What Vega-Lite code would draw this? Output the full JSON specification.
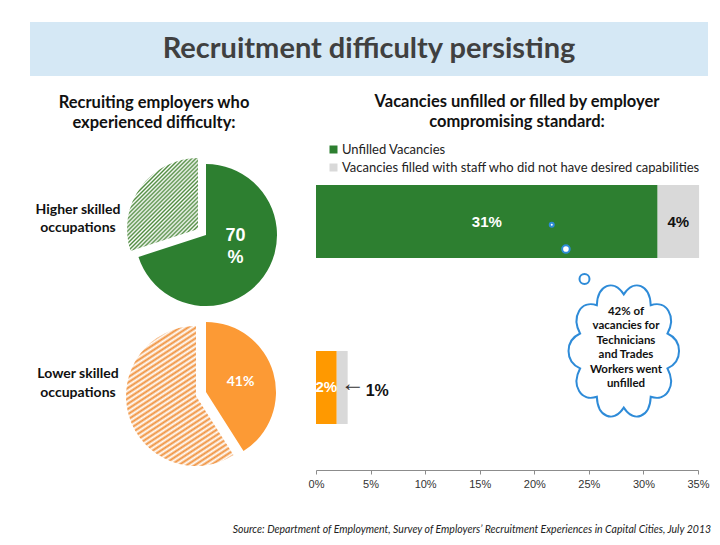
{
  "$schema": "https://vega.github.io/schema/vega-lite/v6.json",
  "padding": {"left": 30, "top": 22, "right": 0, "bottom": 0},
  "background": "white",
  "config": {"view": {"stroke": null}, "font": "Lato"},
  "title": {"text": "Source:  Department of Employment, Survey of Employers’ Recruitment Experiences in Capital Cities, July 2013", "orient": "bottom", "anchor": "end", "font": "Lato", "fontStyle": "italic", "fontWeight": "normal", "fontSize": 10.5, "color": "#222222", "offset": 36, "dx": -6},
  "spacing": 17,
  "resolve": {"legend": {"color": "independent", "size": "independent"}},
  "vconcat": [
    {
      "width": 678,
      "height": 54,
      "view": {"fill": "#d5e8f5", "stroke": null},
      "data": {"values": [{"heading": "Recruitment difficulty persisting"}]},
      "mark": {"type": "text", "font": "Lato", "fontWeight": "bold", "fontSize": 29, "color": "#404040", "baseline": "middle", "align": "center"},
      "encoding": {"text": {"field": "heading"}}
    },
    {
      "spacing": 22,
      "resolve": {"legend": {"color": "independent", "size": "independent"}},
      "hconcat": [
        {
          "title": {"text": ["Recruiting employers who", "experienced difficulty:"], "font": "Lato", "fontSize": 16.5, "fontWeight": "bold", "color": "#111111", "lineHeight": 20, "offset": 27, "anchor": "middle", "dx": -4},
          "spacing": 0,
          "hconcat": [
            {
              "spacing": 7,
              "vconcat": [
                {
                  "width": 96,
                  "height": 150,
                  "data": {"values": [{"group": "Higher skilled occupations", "label": "Higher skilled\noccupations"}]},
                  "mark": {"type": "text", "font": "Lato", "fontWeight": "bold", "fontSize": 14, "lineHeight": 18, "lineBreak": "\n", "align": "center", "baseline": "middle", "dy": -25, "color": "#111111"},
                  "encoding": {"text": {"field": "label"}}
                },
                {
                  "width": 96,
                  "height": 150,
                  "data": {"values": [{"group": "Lower skilled occupations", "label": "Lower skilled\noccupations"}]},
                  "mark": {"type": "text", "font": "Lato", "fontWeight": "bold", "fontSize": 14, "lineHeight": 19, "lineBreak": "\n", "align": "center", "baseline": "middle", "dy": -18.5, "color": "#111111"},
                  "encoding": {"text": {"field": "label"}}
                }
              ]
            },
            {
              "spacing": 7,
              "vconcat": [
                {
                  "width": 160,
                  "height": 150,
                  "data": {"values": [
                    {"occupation": "Higher skilled occupations", "status": "Experienced difficulty", "pct": 70, "label": "70\n%"},
                    {"occupation": "Higher skilled occupations", "status": "No difficulty", "pct": 30, "label": ""}
                  ]},
                  "encoding": {
                    "theta": {"field": "pct", "type": "quantitative", "stack": true},
                    "order": {"field": "status", "sort": "ascending"},
                    "detail": {"field": "status"}
                  },
                  "layer": [
                    {
                      "mark": {"type": "arc", "outerRadius": 71, "fill": "#2d7f30"},
                      "encoding": {"fillOpacity": {"condition": {"test": "datum.status === 'Experienced difficulty'", "value": 1}, "value": 0}}
                    },
                    {
                      "mark": {"type": "arc", "outerRadius": 71, "xOffset": -8, "yOffset": -6, "fill": {"gradient": "linear", "x1": 0, "y1": 0, "x2": 0.85, "y2": 1.11, "stops": [
                        {"offset":0,"color":"#4f8b3f"},{"offset":0.0125,"color":"#ffffff"},{"offset":0.025,"color":"#4f8b3f"},{"offset":0.0375,"color":"#ffffff"},{"offset":0.05,"color":"#4f8b3f"},{"offset":0.0625,"color":"#ffffff"},{"offset":0.075,"color":"#4f8b3f"},{"offset":0.0875,"color":"#ffffff"},{"offset":0.1,"color":"#4f8b3f"},{"offset":0.1125,"color":"#ffffff"},{"offset":0.125,"color":"#4f8b3f"},{"offset":0.1375,"color":"#ffffff"},{"offset":0.15,"color":"#4f8b3f"},{"offset":0.1625,"color":"#ffffff"},{"offset":0.175,"color":"#4f8b3f"},{"offset":0.1875,"color":"#ffffff"},{"offset":0.2,"color":"#4f8b3f"},{"offset":0.2125,"color":"#ffffff"},{"offset":0.225,"color":"#4f8b3f"},{"offset":0.2375,"color":"#ffffff"},{"offset":0.25,"color":"#4f8b3f"},{"offset":0.2625,"color":"#ffffff"},{"offset":0.275,"color":"#4f8b3f"},{"offset":0.2875,"color":"#ffffff"},{"offset":0.3,"color":"#4f8b3f"},{"offset":0.3125,"color":"#ffffff"},{"offset":0.325,"color":"#4f8b3f"},{"offset":0.3375,"color":"#ffffff"},{"offset":0.35,"color":"#4f8b3f"},{"offset":0.3625,"color":"#ffffff"},{"offset":0.375,"color":"#4f8b3f"},{"offset":0.3875,"color":"#ffffff"},{"offset":0.4,"color":"#4f8b3f"},{"offset":0.4125,"color":"#ffffff"},{"offset":0.425,"color":"#4f8b3f"},{"offset":0.4375,"color":"#ffffff"},{"offset":0.45,"color":"#4f8b3f"},{"offset":0.4625,"color":"#ffffff"},{"offset":0.475,"color":"#4f8b3f"},{"offset":0.4875,"color":"#ffffff"},{"offset":0.5,"color":"#4f8b3f"},{"offset":0.5125,"color":"#ffffff"},{"offset":0.525,"color":"#4f8b3f"},{"offset":0.5375,"color":"#ffffff"},{"offset":0.55,"color":"#4f8b3f"},{"offset":0.5625,"color":"#ffffff"},{"offset":0.575,"color":"#4f8b3f"},{"offset":0.5875,"color":"#ffffff"},{"offset":0.6,"color":"#4f8b3f"},{"offset":0.6125,"color":"#ffffff"},{"offset":0.625,"color":"#4f8b3f"},{"offset":0.6375,"color":"#ffffff"},{"offset":0.65,"color":"#4f8b3f"},{"offset":0.6625,"color":"#ffffff"},{"offset":0.675,"color":"#4f8b3f"},{"offset":0.6875,"color":"#ffffff"},{"offset":0.7,"color":"#4f8b3f"},{"offset":0.7125,"color":"#ffffff"},{"offset":0.725,"color":"#4f8b3f"},{"offset":0.7375,"color":"#ffffff"},{"offset":0.75,"color":"#4f8b3f"},{"offset":0.7625,"color":"#ffffff"},{"offset":0.775,"color":"#4f8b3f"},{"offset":0.7875,"color":"#ffffff"},{"offset":0.8,"color":"#4f8b3f"},{"offset":0.8125,"color":"#ffffff"},{"offset":0.825,"color":"#4f8b3f"},{"offset":0.8375,"color":"#ffffff"},{"offset":0.85,"color":"#4f8b3f"},{"offset":0.8625,"color":"#ffffff"},{"offset":0.875,"color":"#4f8b3f"},{"offset":0.8875,"color":"#ffffff"},{"offset":0.9,"color":"#4f8b3f"},{"offset":0.9125,"color":"#ffffff"},{"offset":0.925,"color":"#4f8b3f"},{"offset":0.9375,"color":"#ffffff"},{"offset":0.95,"color":"#4f8b3f"},{"offset":0.9625,"color":"#ffffff"},{"offset":0.975,"color":"#4f8b3f"},{"offset":0.9875,"color":"#ffffff"},{"offset":1,"color":"#4f8b3f"}
                      ]}},
                      "encoding": {
                        "x": {"datum": 0, "type": "quantitative", "scale": {"domain": [-1, 1], "nice": false}, "axis": null},
                        "y": {"datum": 0, "type": "quantitative", "scale": {"domain": [-1, 1], "nice": false}, "axis": null},
                        "fillOpacity": {"condition": {"test": "datum.status === 'No difficulty'", "value": 1}, "value": 0}
                      }
                    },
                    {
                      "mark": {"type": "text", "radius": 34, "dx": 2, "dy": -19, "font": "Liberation Sans", "fontWeight": "bold", "fontSize": 18, "color": "#ffffff", "lineBreak": "\n", "lineHeight": 22, "baseline": "middle"},
                      "encoding": {"text": {"field": "label"}}
                    }
                  ]
                },
                {
                  "width": 160,
                  "height": 150,
                  "data": {"values": [
                    {"occupation": "Lower skilled occupations", "status": "Experienced difficulty", "pct": 41, "label": "41%"},
                    {"occupation": "Lower skilled occupations", "status": "No difficulty", "pct": 59, "label": ""}
                  ]},
                  "encoding": {
                    "theta": {"field": "pct", "type": "quantitative", "stack": true},
                    "order": {"field": "status", "sort": "ascending"},
                    "detail": {"field": "status"}
                  },
                  "layer": [
                    {
                      "mark": {"type": "arc", "outerRadius": 70, "fill": "#fc9a35"},
                      "encoding": {"fillOpacity": {"condition": {"test": "datum.status === 'Experienced difficulty'", "value": 1}, "value": 0}}
                    },
                    {
                      "mark": {"type": "arc", "outerRadius": 70, "xOffset": -10, "yOffset": 4, "fill": {"gradient": "linear", "x1": 0, "y1": 0, "x2": 0.604, "y2": 1.2, "stops": [
                        {"offset":0,"color":"#f0913c"},{"offset":0.0125,"color":"#ffffff"},{"offset":0.025,"color":"#f0913c"},{"offset":0.0375,"color":"#ffffff"},{"offset":0.05,"color":"#f0913c"},{"offset":0.0625,"color":"#ffffff"},{"offset":0.075,"color":"#f0913c"},{"offset":0.0875,"color":"#ffffff"},{"offset":0.1,"color":"#f0913c"},{"offset":0.1125,"color":"#ffffff"},{"offset":0.125,"color":"#f0913c"},{"offset":0.1375,"color":"#ffffff"},{"offset":0.15,"color":"#f0913c"},{"offset":0.1625,"color":"#ffffff"},{"offset":0.175,"color":"#f0913c"},{"offset":0.1875,"color":"#ffffff"},{"offset":0.2,"color":"#f0913c"},{"offset":0.2125,"color":"#ffffff"},{"offset":0.225,"color":"#f0913c"},{"offset":0.2375,"color":"#ffffff"},{"offset":0.25,"color":"#f0913c"},{"offset":0.2625,"color":"#ffffff"},{"offset":0.275,"color":"#f0913c"},{"offset":0.2875,"color":"#ffffff"},{"offset":0.3,"color":"#f0913c"},{"offset":0.3125,"color":"#ffffff"},{"offset":0.325,"color":"#f0913c"},{"offset":0.3375,"color":"#ffffff"},{"offset":0.35,"color":"#f0913c"},{"offset":0.3625,"color":"#ffffff"},{"offset":0.375,"color":"#f0913c"},{"offset":0.3875,"color":"#ffffff"},{"offset":0.4,"color":"#f0913c"},{"offset":0.4125,"color":"#ffffff"},{"offset":0.425,"color":"#f0913c"},{"offset":0.4375,"color":"#ffffff"},{"offset":0.45,"color":"#f0913c"},{"offset":0.4625,"color":"#ffffff"},{"offset":0.475,"color":"#f0913c"},{"offset":0.4875,"color":"#ffffff"},{"offset":0.5,"color":"#f0913c"},{"offset":0.5125,"color":"#ffffff"},{"offset":0.525,"color":"#f0913c"},{"offset":0.5375,"color":"#ffffff"},{"offset":0.55,"color":"#f0913c"},{"offset":0.5625,"color":"#ffffff"},{"offset":0.575,"color":"#f0913c"},{"offset":0.5875,"color":"#ffffff"},{"offset":0.6,"color":"#f0913c"},{"offset":0.6125,"color":"#ffffff"},{"offset":0.625,"color":"#f0913c"},{"offset":0.6375,"color":"#ffffff"},{"offset":0.65,"color":"#f0913c"},{"offset":0.6625,"color":"#ffffff"},{"offset":0.675,"color":"#f0913c"},{"offset":0.6875,"color":"#ffffff"},{"offset":0.7,"color":"#f0913c"},{"offset":0.7125,"color":"#ffffff"},{"offset":0.725,"color":"#f0913c"},{"offset":0.7375,"color":"#ffffff"},{"offset":0.75,"color":"#f0913c"},{"offset":0.7625,"color":"#ffffff"},{"offset":0.775,"color":"#f0913c"},{"offset":0.7875,"color":"#ffffff"},{"offset":0.8,"color":"#f0913c"},{"offset":0.8125,"color":"#ffffff"},{"offset":0.825,"color":"#f0913c"},{"offset":0.8375,"color":"#ffffff"},{"offset":0.85,"color":"#f0913c"},{"offset":0.8625,"color":"#ffffff"},{"offset":0.875,"color":"#f0913c"},{"offset":0.8875,"color":"#ffffff"},{"offset":0.9,"color":"#f0913c"},{"offset":0.9125,"color":"#ffffff"},{"offset":0.925,"color":"#f0913c"},{"offset":0.9375,"color":"#ffffff"},{"offset":0.95,"color":"#f0913c"},{"offset":0.9625,"color":"#ffffff"},{"offset":0.975,"color":"#f0913c"},{"offset":0.9875,"color":"#ffffff"},{"offset":1,"color":"#f0913c"}
                      ]}},
                      "encoding": {
                        "x": {"datum": 0, "type": "quantitative", "scale": {"domain": [-1, 1], "nice": false}, "axis": null},
                        "y": {"datum": 0, "type": "quantitative", "scale": {"domain": [-1, 1], "nice": false}, "axis": null},
                        "fillOpacity": {"condition": {"test": "datum.status === 'No difficulty'", "value": 1}, "value": 0}
                      }
                    },
                    {
                      "mark": {"type": "text", "radius": 36, "font": "Lato", "fontWeight": "bold", "fontSize": 14, "color": "#ffffff", "baseline": "middle"},
                      "encoding": {"text": {"field": "label"}}
                    }
                  ]
                }
              ]
            }
          ]
        },
        {
          "width": 382,
          "height": 310,
          "title": {"text": ["Vacancies unfilled or filled by employer", "compromising standard:"], "font": "Lato", "fontSize": 16.5, "fontWeight": "bold", "color": "#111111", "lineHeight": 20, "offset": 13, "anchor": "middle", "dx": 10},
          "resolve": {"scale": {"y": "independent"}},
          "layer": [
            {
              "data": {"values": [
                {"occupation": "Higher skilled occupations", "type": "Unfilled Vacancies", "pct": 31.3, "label": "31%"},
                {"occupation": "Higher skilled occupations", "type": "Vacancies filled with staff who did not have desired capabilities", "pct": 3.8, "label": "4%"},
                {"occupation": "Lower skilled occupations", "type": "Unfilled Vacancies", "pct": 1.9, "label": "2%"},
                {"occupation": "Lower skilled occupations", "type": "Vacancies filled with staff who did not have desired capabilities", "pct": 1.0, "label": "1%"}
              ]},
              "encoding": {
                "y": {"field": "occupation", "type": "nominal", "sort": ["Higher skilled occupations", "Lower skilled occupations"], "axis": null, "scale": {"paddingInner": 0.56, "paddingOuter": 0.214, "align": 0.352}},
                "order": {"field": "type", "sort": "ascending"}
              },
              "layer": [
                {
                  "mark": {"type": "bar"},
                  "encoding": {
                    "x": {"field": "pct", "type": "quantitative", "stack": "zero", "title": null, "scale": {"domain": [0, 35], "nice": false},
                      "axis": {"values": [0, 5, 10, 15, 20, 25, 30, 35], "labelExpr": "datum.value + '%'", "labelFlush": false, "grid": false, "domainColor": "#8c8c8c", "tickColor": "#8c8c8c", "tickSize": 4, "labelFont": "Liberation Sans", "labelFontSize": 11, "labelColor": "#333333", "labelPadding": 4, "title": null}},
                    "color": {
                      "field": "type", "type": "nominal",
                      "scale": {"domain": ["Unfilled Vacancies", "Vacancies filled with staff who did not have desired capabilities"], "range": ["#2d7f30", "#d9d9d9"]},
                      "condition": {"test": "datum.occupation === 'Lower skilled occupations' && datum.type === 'Unfilled Vacancies'", "value": "#ff9900"},
                      "legend": {"title": null, "orient": "none", "legendX": 11, "legendY": -17, "symbolType": "square", "symbolSize": 64, "symbolStrokeWidth": 0, "labelFont": "Lato", "labelFontSize": 13, "labelColor": "#222222", "rowPadding": 4, "labelOffset": 2, "labelLimit": 500}
                    }
                  }
                },
                {
                  "mark": {"type": "text", "font": "Liberation Sans", "fontWeight": "bold", "fontSize": 15, "baseline": "middle"},
                  "encoding": {
                    "x": {"field": "pct", "type": "quantitative", "stack": "zero", "bandPosition": 0.5, "title": null, "scale": {"domain": [0, 35], "nice": false}},
                    "detail": {"field": "type"},
                    "text": {"condition": {"test": "datum.occupation === 'Lower skilled occupations' && datum.type !== 'Unfilled Vacancies'", "value": ""}, "field": "label"},
                    "color": {"condition": {"test": "datum.type === 'Unfilled Vacancies'", "value": "#ffffff"}, "value": "#111111"}
                  }
                },
                {
                  "mark": {"type": "text", "font": "Liberation Sans", "fontWeight": "normal", "fontSize": 24, "align": "left", "baseline": "middle", "dx": -7, "dy": -3, "color": "#333333"},
                  "encoding": {
                    "x": {"field": "pct", "type": "quantitative", "stack": "zero", "title": null, "scale": {"domain": [0, 35], "nice": false}},
                    "detail": {"field": "type"},
                    "text": {"condition": {"test": "datum.occupation === 'Lower skilled occupations' && datum.type !== 'Unfilled Vacancies'", "value": "←"}, "value": ""}
                  }
                },
                {
                  "mark": {"type": "text", "font": "Liberation Sans", "fontWeight": "bold", "fontSize": 16, "align": "left", "baseline": "middle", "dx": 18, "dy": 4, "color": "#111111"},
                  "encoding": {
                    "x": {"field": "pct", "type": "quantitative", "stack": "zero", "title": null, "scale": {"domain": [0, 35], "nice": false}},
                    "detail": {"field": "type"},
                    "text": {"condition": {"test": "datum.occupation === 'Lower skilled occupations' && datum.type !== 'Unfilled Vacancies'", "field": "label"}, "value": ""}
                  }
                }
              ]
            },
            {
              "layer": [
                {
                  "data": {"values": [
                    {"pct": 21.6, "pos": 1.02, "bubble": "1"},
                    {"pct": 22.9, "pos": 1.166, "bubble": "2"},
                    {"pct": 24.6, "pos": 1.346, "bubble": "3"}
                  ]},
                  "mark": {"type": "point", "shape": "circle", "filled": true, "fill": "#ffffff", "stroke": "#2e8bd8", "strokeWidth": 2, "opacity": 1},
                  "encoding": {
                    "x": {"field": "pct", "type": "quantitative", "title": null, "scale": {"domain": [0, 35], "nice": false}},
                    "y": {"field": "pos", "type": "quantitative", "axis": null, "scale": {"domain": [0.6295, 2.497], "reverse": true, "nice": false, "zero": false}},
                    "size": {"field": "bubble", "type": "ordinal", "scale": {"domain": ["1", "2", "3"], "range": [16, 100, 289]}, "legend": null}
                  }
                },
                {
                  "data": {"values": [{"pct": 28.2, "pos": 1.78}]},
                  "mark": {"type": "point", "shape": "M0,-0.82 C0.150,-1.05 0.379,-0.958 0.390,-0.663 C0.622,-0.741 0.763,-0.5 0.633,-0.253 C0.856,-0.148 0.856,0.148 0.633,0.253 C0.763,0.5 0.622,0.741 0.390,0.663 C0.379,0.958 0.150,1.05 0,0.82 C-0.150,1.05 -0.379,0.958 -0.390,0.663 C-0.622,0.741 -0.763,0.5 -0.633,0.253 C-0.856,0.148 -0.856,-0.148 -0.633,-0.253 C-0.763,-0.5 -0.622,-0.741 -0.390,-0.663 C-0.379,-0.958 -0.150,-1.05 0,-0.82 Z", "size": 19070, "filled": true, "fill": "#ffffff", "stroke": "#2e8bd8", "strokeWidth": 2, "opacity": 1},
                  "encoding": {
                    "x": {"field": "pct", "type": "quantitative", "title": null, "scale": {"domain": [0, 35], "nice": false}},
                    "y": {"field": "pos", "type": "quantitative", "axis": null, "scale": {"domain": [0.6295, 2.497], "reverse": true, "nice": false, "zero": false}}
                  }
                },
                {
                  "data": {"values": [{"pct": 28.4, "pos": 1.762, "note": "42% of\nvacancies for\nTechnicians\nand Trades\nWorkers went\nunfilled"}]},
                  "mark": {"type": "text", "font": "Lato", "fontWeight": "bold", "fontSize": 11.5, "lineHeight": 14.4, "lineBreak": "\n", "color": "#111111", "align": "center", "baseline": "middle", "dy": -36},
                  "encoding": {
                    "x": {"field": "pct", "type": "quantitative", "title": null, "scale": {"domain": [0, 35], "nice": false}},
                    "y": {"field": "pos", "type": "quantitative", "axis": null, "scale": {"domain": [0.6295, 2.497], "reverse": true, "nice": false, "zero": false}},
                    "text": {"field": "note"}
                  }
                }
              ]
            }
          ]
        }
      ]
    }
  ]
}
